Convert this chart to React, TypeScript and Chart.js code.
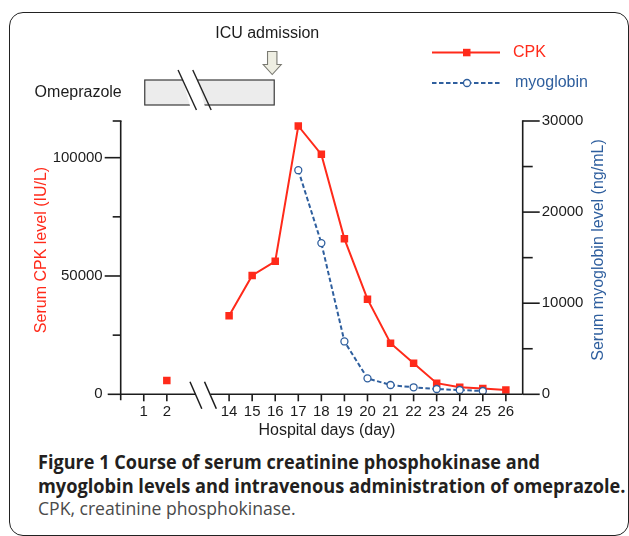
import React, { useEffect, useRef } from 'react';
import { Chart, registerables } from 'chart.js';

Chart.register(...registerables);

// ---------- data ----------
const tickDays = [1, 2, 14, 15, 16, 17, 18, 19, 20, 21, 22, 23, 24, 25, 26];
const cpkDays = [2, 14, 15, 16, 17, 18, 19, 20, 21, 22, 23, 24, 25, 26];
const cpkValues = [5800, 33200, 50200, 56200, 113400, 101400, 65700, 40200, 21600, 13100, 4700, 3000, 2400, 1800];
const myoDays = [17, 18, 19, 20, 21, 22, 23, 24, 25];
const myoValues = [24600, 16600, 5800, 1750, 1020, 770, 580, 470, 360];
const leftTicks = [0, 25000, 50000, 75000, 100000];
const leftLabelled = [0, 50000, 100000];
const rightTicks = [0, 5000, 10000, 15000, 20000, 25000, 30000];
const rightLabelled = [0, 10000, 20000, 30000];
const LEFT_MAX = 115500;
const RIGHT_MAX = 30000;
const BREAK_AFTER = 2; // axis break after day 2
const BREAK_SHIFT = 9.3; // compressed days
const X_MAX = 17.43;
const omeprazoleStartDay = 1;
const omeprazoleEndDay = 16;
const icuDay = 16;

const RED = '#ff2a1a';
const BLUE = '#2f5f9e';
const INK = '#1c1c1c';
const FONT = '"Liberation Sans", Arial, Helvetica, sans-serif';

const dayPos = (d: number) => (d <= BREAK_AFTER ? d : d - BREAK_SHIFT);

function buildCpk() {
  const out: { x: number; y: number | null }[] = [];
  cpkDays.forEach((d, i) => {
    if (i > 0 && cpkDays[i - 1] <= BREAK_AFTER && d > BREAK_AFTER) {
      out.push({ x: (dayPos(cpkDays[i - 1]) + dayPos(d)) / 2, y: null });
    }
    out.push({ x: dayPos(d), y: cpkValues[i] });
  });
  return out;
}

const decor = {
  id: 'decor',
  afterDraw(chart: any) {
    const { ctx, chartArea: ca, scales } = chart;
    const xs = scales.x;
    const yl = scales.yL;
    const yr = scales.yR;
    const line = (x1: number, y1: number, x2: number, y2: number) => {
      ctx.beginPath();
      ctx.moveTo(x1, y1);
      ctx.lineTo(x2, y2);
      ctx.stroke();
    };
    ctx.save();
    ctx.strokeStyle = INK;
    ctx.lineWidth = 1.6;
    ctx.lineCap = 'butt';
    const y0 = yl.getPixelForValue(0);
    // left axis
    line(ca.left, ca.top, ca.left, y0 + 6);
    line(ca.left - 8, ca.top, ca.left + 0.8, ca.top);
    leftTicks.forEach((v) => {
      const py = yl.getPixelForValue(v);
      const len = v === 0 ? 13 : leftLabelled.includes(v) ? 16 : 8;
      line(ca.left - len, py, ca.left, py);
    });
    // right axis
    line(ca.right, ca.top - 0.8, ca.right, y0);
    rightTicks.forEach((v) => {
      const py = yr.getPixelForValue(v);
      const len = rightLabelled.includes(v) ? 17 : 10;
      line(ca.right, py, ca.right + len, py);
    });
    // x axis with break
    const b1 = xs.getPixelForValue(3.26);
    const b2 = xs.getPixelForValue(3.89);
    line(ca.left, y0, b1, y0);
    line(b2, y0, ca.right, y0);
    ctx.lineWidth = 1.5;
    [b1, b2].forEach((c) => line(c - 5.9, y0 - 12.5, c + 5.9, y0 + 14.5));
    ctx.lineWidth = 1.6;
    tickDays.forEach((d) => {
      const px = xs.getPixelForValue(dayPos(d));
      line(px, y0, px, y0 + 7);
    });

    // axis titles
    ctx.font = `16px ${FONT}`;
    ctx.textBaseline = 'middle';
    ctx.textAlign = 'center';
    ctx.fillStyle = INK;
    ctx.fillText('Hospital days (day)', ca.left + (ca.right - ca.left) * 0.513, 431);
    ctx.save();
    ctx.translate(42, 250);
    ctx.rotate(-Math.PI / 2);
    ctx.fillStyle = RED;
    ctx.fillText('Serum CPK level (IU/L)', 0, 0);
    ctx.restore();
    ctx.save();
    ctx.translate(599, 250);
    ctx.rotate(-Math.PI / 2);
    ctx.fillStyle = BLUE;
    ctx.fillText('Serum myoglobin level (ng/mL)', 0, 0);
    ctx.restore();

    // legend
    const ds = chart.data.datasets;
    ctx.lineWidth = 2;
    ctx.strokeStyle = RED;
    line(432, 52.5, 500, 52.5);
    ctx.fillStyle = RED;
    ctx.fillRect(463, 48.8, 7.5, 7.5);
    ctx.textAlign = 'left';
    ctx.fillText(ds[0].label, 513, 53);
    ctx.strokeStyle = BLUE;
    ctx.setLineDash([4.5, 2.5]);
    line(432, 83, 500, 83);
    ctx.setLineDash([]);
    ctx.beginPath();
    ctx.arc(467, 83, 3.5, 0, Math.PI * 2);
    ctx.fillStyle = '#fff';
    ctx.fill();
    ctx.lineWidth = 1.3;
    ctx.stroke();
    ctx.fillStyle = BLUE;
    ctx.fillText(ds[1].label, 515, 83);

    // omeprazole bar
    const bx1 = xs.getPixelForValue(dayPos(omeprazoleStartDay)) + 1;
    const bx2 = xs.getPixelForValue(dayPos(omeprazoleEndDay)) - 1;
    ctx.fillStyle = '#ececec';
    ctx.strokeStyle = '#3a3a3a';
    ctx.lineWidth = 1.2;
    ctx.fillRect(bx1, 80, bx2 - bx1, 25);
    ctx.strokeRect(bx1, 80, bx2 - bx1, 25);
    const s1 = bx1 + 42.5;
    const s2 = bx1 + 57.2;
    // white gap between the break marks
    ctx.beginPath();
    ctx.moveTo(s1 - 9.2 + 4.6, 79);
    ctx.lineTo(s2 - 9.2 + 4.6, 79);
    ctx.lineTo(s2 + 9.2 - 6.4, 106);
    ctx.lineTo(s1 + 9.2 - 6.4, 106);
    ctx.closePath();
    ctx.fillStyle = '#ffffff';
    ctx.fill();
    ctx.lineWidth = 1.4;
    ctx.strokeStyle = '#222';
    [s1, s2].forEach((c) => line(c - 9.2, 70, c + 9.2, 110));
    ctx.fillStyle = INK;
    ctx.textAlign = 'right';
    ctx.fillText('Omeprazole', bx1 - 23, 92.5);

    // ICU arrow
    const ax = xs.getPixelForValue(dayPos(icuDay)) - 3;
    ctx.beginPath();
    ctx.moveTo(ax - 4.7, 51.5);
    ctx.lineTo(ax + 4.7, 51.5);
    ctx.lineTo(ax + 4.7, 64.5);
    ctx.lineTo(ax + 9, 64.5);
    ctx.lineTo(ax, 74.5);
    ctx.lineTo(ax - 9, 64.5);
    ctx.lineTo(ax - 4.7, 64.5);
    ctx.closePath();
    ctx.fillStyle = '#eeeee2';
    ctx.fill();
    ctx.strokeStyle = '#7a7a72';
    ctx.lineWidth = 1.1;
    ctx.stroke();
    ctx.fillStyle = INK;
    ctx.textAlign = 'center';
    ctx.fillText('ICU admission', ax - 5, 34);
    ctx.restore();
  },
};

export default function App() {
  const ref = useRef<HTMLCanvasElement | null>(null);
  useEffect(() => {
    if (!ref.current) return;
    const tickFont = { family: FONT, size: 15 };
    const chart = new Chart(ref.current, {
      type: 'line',
      data: {
        datasets: [
          {
            label: 'CPK',
            data: buildCpk() as any,
            yAxisID: 'yL',
            borderColor: RED,
            backgroundColor: RED,
            borderWidth: 2,
            pointStyle: 'rect',
            pointRadius: 5.3,
            pointBorderWidth: 0,
            pointBackgroundColor: RED,
            spanGaps: false,
            order: 2,
          },
          {
            label: 'myoglobin',
            data: myoDays.map((d, i) => ({ x: dayPos(d), y: myoValues[i] })) as any,
            yAxisID: 'yR',
            borderColor: BLUE,
            backgroundColor: '#ffffff',
            borderWidth: 2,
            borderDash: [4.5, 2.5],
            pointStyle: 'circle',
            pointRadius: 3.5,
            pointBorderWidth: 1.3,
            pointBackgroundColor: '#ffffff',
            pointBorderColor: BLUE,
            order: 1,
          },
        ],
      },
      options: {
        animation: false,
        responsive: false,
        layout: { padding: { top: 121, left: 0, right: 0, bottom: 0 } },
        plugins: { legend: { display: false }, tooltip: { enabled: false } },
        scales: {
          x: {
            type: 'linear',
            min: 0,
            max: X_MAX,
            grid: { display: false, drawTicks: false },
            border: { display: false },
            afterBuildTicks: (s: any) => {
              s.ticks = tickDays.map((d) => ({ value: dayPos(d) }));
            },
            afterFit: (s: any) => {
              s.height = 440 - 394.3;
            },
            ticks: {
              autoSkip: false,
              maxRotation: 0,
              minRotation: 0,
              padding: 9,
              color: INK,
              font: tickFont,
              callback: (_v: any, i: number) => String(tickDays[i]),
            },
          },
          yL: {
            type: 'linear',
            position: 'left',
            min: 0,
            max: LEFT_MAX,
            grid: { display: false, drawTicks: false },
            border: { display: false },
            afterBuildTicks: (s: any) => {
              s.ticks = leftTicks.map((v) => ({ value: v }));
            },
            afterFit: (s: any) => {
              s.width = 120.7;
            },
            ticks: {
              padding: 18,
              color: INK,
              font: tickFont,
              callback: (v: any) => (leftLabelled.includes(v) ? String(v) : ''),
            },
          },
          yR: {
            type: 'linear',
            position: 'right',
            min: 0,
            max: RIGHT_MAX,
            grid: { display: false, drawTicks: false },
            border: { display: false },
            afterBuildTicks: (s: any) => {
              s.ticks = rightTicks.map((v) => ({ value: v }));
            },
            afterFit: (s: any) => {
              s.width = 629 - 522.7;
            },
            ticks: {
              padding: 19,
              color: INK,
              font: tickFont,
              callback: (v: any) => (rightLabelled.includes(v) ? String(v) : ''),
            },
          },
        },
      } as any,
      plugins: [decor],
    });
    return () => chart.destroy();
  }, []);

  const cap: React.CSSProperties = {
    position: 'absolute',
    left: 38,
    whiteSpace: 'nowrap',
    fontFamily: '"Open Sans", "Noto Sans", sans-serif',
    margin: 0,
    lineHeight: 1,
    transformOrigin: '0 50%',
  };

  return (
    <div>
      <div
        style={{
          position: 'absolute',
          left: 9,
          top: 12,
          width: 620,
          height: 524,
          border: '1.6px solid #222',
          borderRadius: 14,
          boxSizing: 'border-box',
        }}
      />
      <canvas
        ref={ref}
        width={629}
        height={440}
        style={{ position: 'absolute', left: 0, top: 0, width: 629, height: 440 }}
      />
      <div style={{ ...cap, top: 453, fontSize: 19, fontWeight: 700, color: '#231f20', transform: 'scaleX(0.952)' }}>
        Figure 1 Course of serum creatinine phosphokinase and
      </div>
      <div style={{ ...cap, top: 477, fontSize: 19, fontWeight: 700, color: '#231f20', transform: 'scaleX(0.958)' }}>
        myoglobin levels and intravenous administration of omeprazole.
      </div>
      <div style={{ ...cap, top: 499, fontSize: 18.5, fontWeight: 400, color: '#4a4a4a', transform: 'scaleX(0.95)' }}>
        CPK, creatinine phosphokinase.
      </div>
    </div>
  );
}
